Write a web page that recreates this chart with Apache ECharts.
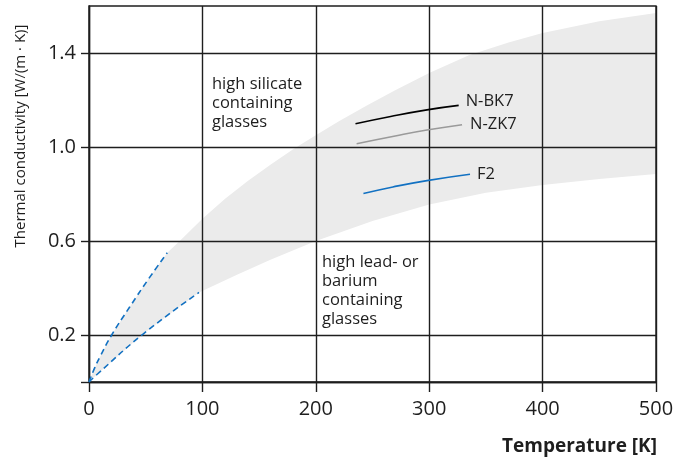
<!DOCTYPE html>
<html><head><meta charset="utf-8">
<script src="https://cdn.jsdelivr.net/npm/echarts@6/dist/echarts.min.js"></script>
<style>html,body{margin:0;padding:0;background:#fff}#c{width:690px;height:462px}</style>
</head><body><div id="c"></div>
<script>
// ---- data ----
const xTickValues = [0, 100, 200, 300, 400, 500];
const yTickValues = [0, 0.2, 0.6, 1.0, 1.4];
const yLabelValues = [0.2, 0.6, 1.0, 1.4];
const dashUpper = [[0,0],[5,0.06],[10,0.11],[20,0.2],[36,0.32],[52,0.435],[69,0.55]];
const dashLower = [[0,0],[7,0.032],[48,0.205],[97,0.381]];
const bandUpperTail = [[80,0.6],[100,0.695],[120,0.78],[140,0.855],[160,0.925],[180,0.99],[200,1.05],[220,1.108],[245,1.177],[270,1.242],[300,1.315],[335,1.39],[370,1.445],[400,1.485],[450,1.535],[500,1.57]];
const bandLowerTail = [[130,0.455],[160,0.52],[200,0.6],[250,0.685],[300,0.755],[350,0.805],[400,0.838],[450,0.864],[500,0.885]];
const nbk7 = [[235,1.099],[266,1.13],[298,1.158],[326,1.177]];
const nzk7 = [[236,1.014],[270,1.047],[298,1.072],[329,1.095]];
const f2 = [[242,0.802],[268,0.83],[298,0.857],[336,0.884]];

const bandUpper = dashUpper.concat(bandUpperTail);
const bandLower = dashLower.concat(bandLowerTail);

const FONT = '"Open Sans", "Noto Sans", sans-serif';
const INK = '#1e1e1e';
const BLUE = '#1271c2';

const chart = echarts.init(document.getElementById('c'));
const axisLineStyle = { color: INK, width: 1.4 };

chart.setOption({
  animation: false,
  grid: { left: 89, right: 34, top: 6, bottom: 80, show: true, borderColor: INK, borderWidth: 1.4, z: 4, outerBoundsMode: 'none' },
  xAxis: {
    type: 'value', min: 0, max: 500, interval: 100, z: 3,
    axisLine: { show: true, lineStyle: axisLineStyle },
    axisTick: { show: true, length: 10, lineStyle: axisLineStyle, customValues: xTickValues },
    axisLabel: { fontSize: 20, color: INK, margin: 17, fontFamily: FONT, customValues: xTickValues },
    splitLine: { show: true, lineStyle: axisLineStyle }
  },
  yAxis: {
    type: 'value', min: 0, max: 1.6, z: 3,
    axisLine: { show: true, lineStyle: axisLineStyle },
    axisTick: { show: true, length: 8, lineStyle: axisLineStyle, customValues: yTickValues },
    axisLabel: { fontSize: 20, color: INK, margin: 13, fontFamily: FONT, customValues: yLabelValues,
      formatter: v => Number(v).toFixed(1) },
    splitLine: { show: true, lineStyle: axisLineStyle }
  },
  graphic: [
    { type: 'text', x: 21, y: 136, rotation: Math.PI / 2,
      style: { text: 'Thermal conductivity [W/(m · K)]', font: '15px ' + FONT, fill: INK, textAlign: 'center', textVerticalAlign: 'middle' } },
    { type: 'text', x: 657, y: 447,
      style: { text: 'Temperature [K]', font: 'bold 19px ' + FONT, fill: INK, textAlign: 'right', textVerticalAlign: 'middle' } },
    { type: 'text', x: 212, y: 75, z: 10,
      style: { text: 'high silicate\ncontaining\nglasses', font: '16.5px ' + FONT, lineHeight: 19, fill: INK, textAlign: 'left', textVerticalAlign: 'top' } },
    { type: 'text', x: 322, y: 253, z: 10,
      style: { text: 'high lead- or\nbarium\ncontaining\nglasses', font: '16.5px ' + FONT, lineHeight: 19, fill: INK, textAlign: 'left', textVerticalAlign: 'top' } }
  ],
  series: [
    {
      type: 'custom', z: 1, silent: true, data: [[0, 0]],
      renderItem: function (params, api) {
        const pts = bandUpper.map(p => api.coord(p)).concat(bandLower.slice().reverse().map(p => api.coord(p)));
        return { type: 'polygon', shape: { points: pts }, style: { fill: '#ebebeb', stroke: null } };
      }
    },
    { type: 'line', name: 'N-BK7', data: nbk7, smooth: true, showSymbol: false, z: 5,
      lineStyle: { color: '#000', width: 1.6 },
      endLabel: { show: true, formatter: 'N-BK7', fontSize: 16.5, fontFamily: FONT, color: INK, distance: 7, offset: [0, -4] } },
    { type: 'line', name: 'N-ZK7', data: nzk7, smooth: true, showSymbol: false, z: 5,
      lineStyle: { color: '#9a9a9a', width: 1.6 },
      endLabel: { show: true, formatter: 'N-ZK7', fontSize: 16.5, fontFamily: FONT, color: INK, distance: 8 } },
    { type: 'line', name: 'F2', data: f2, smooth: true, showSymbol: false, z: 5,
      lineStyle: { color: BLUE, width: 1.6 },
      endLabel: { show: true, formatter: 'F2', fontSize: 16.5, fontFamily: FONT, color: INK, distance: 7 } },
    { type: 'line', name: 'upper dashed', data: dashUpper, smooth: true, showSymbol: false, z: 5,
      lineStyle: { color: BLUE, width: 1.6, type: [6, 4] } },
    { type: 'line', name: 'lower dashed', data: dashLower, smooth: true, showSymbol: false, z: 5,
      lineStyle: { color: BLUE, width: 1.6, type: [6, 4] } }
  ]
});
</script>
</body></html>
